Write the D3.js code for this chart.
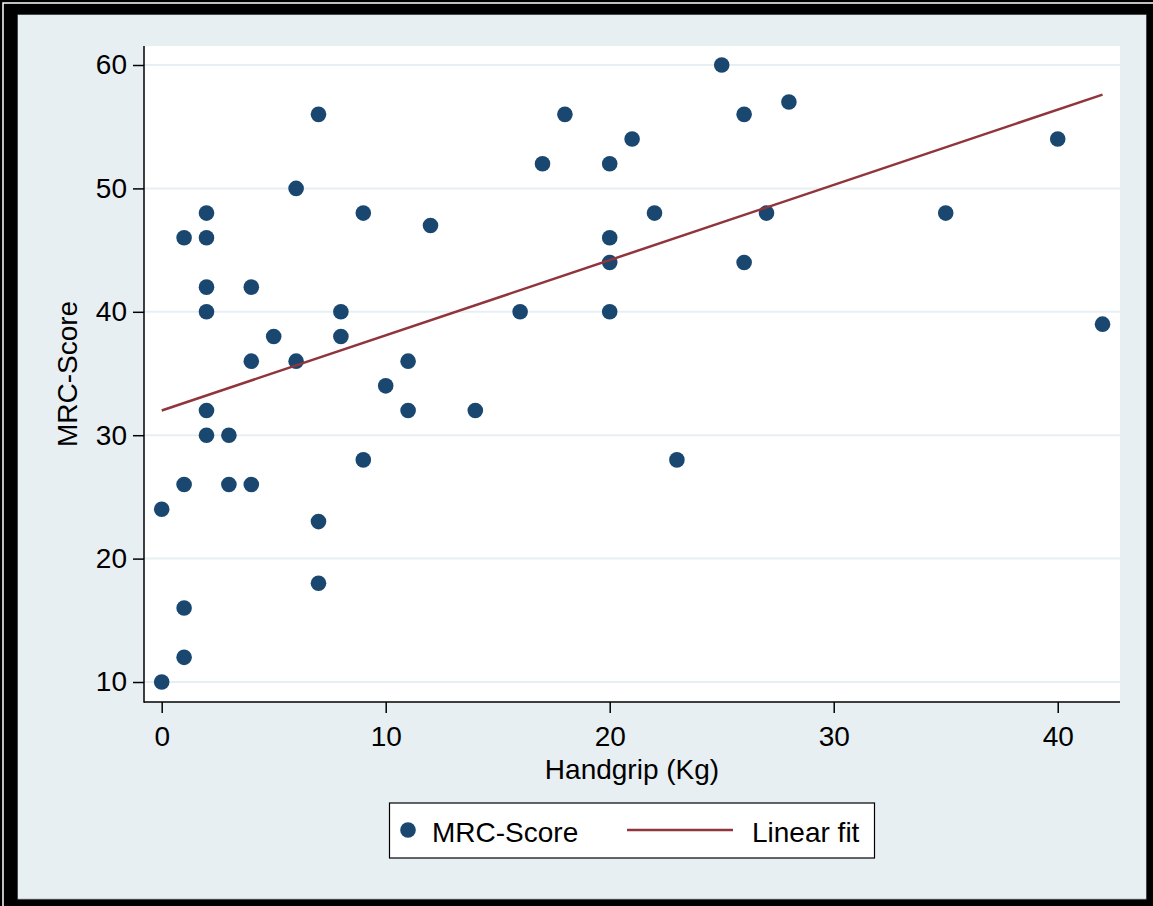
<!DOCTYPE html>
<html>
<head>
<meta charset="utf-8">
<script src="https://cdn.jsdelivr.net/npm/d3@7"></script>
<style>
  body { margin: 0; background: #000; }
  svg { display: block; font-family: "Liberation Sans", Arial, Helvetica, sans-serif; }
</style>
</head>
<body>
<div id="chart"></div>
<script>
var width = 1153,
    height = 906;

// handgrip (Kg) and MRC-Score
var handgrip = [0, 0, 1, 1, 1, 1, 2, 2, 2, 2, 2, 2, 3, 3, 4, 4, 4, 5, 6, 6,
                7, 7, 7, 8, 8, 9, 9, 10, 11, 11, 12, 14, 16, 17, 18, 20, 20, 20, 20, 21,
                22, 23, 25, 26, 26, 27, 28, 35, 40, 42];
var mrcScore = [10, 24, 12, 16, 26, 46, 30, 32, 40, 42, 46, 48, 26, 30, 26, 36, 42, 38, 36, 50,
                18, 23, 56, 38, 40, 28, 48, 34, 32, 36, 47, 32, 40, 52, 56, 40, 44, 46, 52, 54,
                48, 28, 60, 44, 56, 48, 57, 48, 54, 39];

// linear fit end points
var fitX = [0, 42];
var fitY = [32.0, 57.6];

var xTicks = [0, 10, 20, 30, 40];
var yTicks = [10, 20, 30, 40, 50, 60];

var bg = "#e8eff2",
    navy = "#1a476f",
    maroon = "#90353b";

var plot = {left: 144, right: 1120, top: 46, bottom: 702};

var svg = d3.select("#chart").append("svg")
    .attr("width", width)
    .attr("height", height);

// frame
svg.append("rect").attr("width", width).attr("height", height).attr("fill", "#000");
svg.append("path")
    .attr("d", "M3," + height + "V3H" + width)
    .attr("fill", "none")
    .attr("stroke", "#fff")
    .attr("stroke-width", 1.5);
svg.append("rect")
    .attr("x", 18).attr("y", 15)
    .attr("width", 1128).attr("height", 884)
    .attr("fill", bg)
    .attr("stroke", "#8a9296")
    .attr("stroke-width", 1);
svg.append("rect")
    .attr("x", 18).attr("y", 15)
    .attr("width", 1128).attr("height", 883.5)
    .attr("fill", bg);

// plot region
svg.append("rect")
    .attr("x", plot.left).attr("y", plot.top)
    .attr("width", plot.right - plot.left)
    .attr("height", plot.bottom - plot.top)
    .attr("fill", "#fff");

var x = d3.scaleLinear()
    .domain([-0.79, 42.78])
    .range([plot.left, plot.right]);

var y = d3.scaleLinear()
    .domain([8.38, 61.54])
    .range([plot.bottom, plot.top]);

// grid
svg.append("g")
  .selectAll("line")
  .data(yTicks)
  .enter().append("line")
    .attr("x1", plot.left).attr("x2", plot.right)
    .attr("y1", function(d) { return y(d); })
    .attr("y2", function(d) { return y(d); })
    .attr("stroke", bg)
    .attr("stroke-width", 2);

// axes
var xAxis = d3.axisBottom(x).tickValues(xTicks).tickSize(11).tickPadding(13).tickSizeOuter(0);
var yAxis = d3.axisLeft(y).tickValues(yTicks).tickSize(11).tickPadding(6).tickSizeOuter(0);

var gx = svg.append("g")
    .attr("transform", "translate(0," + plot.bottom + ")")
    .call(xAxis);
var gy = svg.append("g")
    .attr("transform", "translate(" + plot.left + ",0)")
    .call(yAxis);

[gx, gy].forEach(function(g) {
  g.select(".domain").remove();
  g.selectAll(".tick line").attr("stroke", "#000").attr("stroke-width", 1.5);
  g.selectAll(".tick text").attr("fill", "#000").style("font-size", "28px")
    .style("font-family", "'Liberation Sans', Arial, sans-serif");
});

svg.append("line")
    .attr("x1", plot.left).attr("x2", plot.left)
    .attr("y1", plot.top).attr("y2", plot.bottom + 0.75)
    .attr("stroke", "#000").attr("stroke-width", 1.5);
svg.append("line")
    .attr("x1", plot.left).attr("x2", plot.right)
    .attr("y1", plot.bottom).attr("y2", plot.bottom)
    .attr("stroke", "#000").attr("stroke-width", 1.5);

// axis titles
svg.append("text")
    .attr("x", (plot.left + plot.right) / 2)
    .attr("y", 779)
    .attr("text-anchor", "middle")
    .style("font-size", "28px")
    .text("Handgrip (Kg)");

svg.append("text")
    .attr("transform", "translate(77," + (plot.top + plot.bottom) / 2 + ") rotate(-90)")
    .attr("text-anchor", "middle")
    .style("font-size", "28px")
    .text("MRC-Score");

// points
var points = handgrip.map(function(h, i) { return {x: h, y: mrcScore[i]}; });

svg.append("g")
  .selectAll("circle")
  .data(points)
  .enter().append("circle")
    .attr("cx", function(d) { return x(d.x); })
    .attr("cy", function(d) { return y(d.y); })
    .attr("r", 7.8)
    .attr("fill", navy);

// fitted line
var line = d3.line()
    .x(function(d) { return x(d[0]); })
    .y(function(d) { return y(d[1]); });

svg.append("path")
    .datum(d3.zip(fitX, fitY))
    .attr("d", line)
    .attr("fill", "none")
    .attr("stroke", maroon)
    .attr("stroke-width", 2.5);

// legend
var legend = svg.append("g");
legend.append("rect")
    .attr("x", 389.5).attr("y", 803)
    .attr("width", 485).attr("height", 55)
    .attr("fill", "#fff")
    .attr("stroke", "#000")
    .attr("stroke-width", 1.2);
legend.append("circle")
    .attr("cx", 408).attr("cy", 830).attr("r", 7.8)
    .attr("fill", navy);
legend.append("text")
    .attr("x", 432).attr("y", 841.5)
    .style("font-size", "28px")
    .text("MRC-Score");
legend.append("line")
    .attr("x1", 627).attr("x2", 733)
    .attr("y1", 830).attr("y2", 830)
    .attr("stroke", maroon).attr("stroke-width", 2.5);
legend.append("text")
    .attr("x", 752).attr("y", 841.5)
    .style("font-size", "28px")
    .text("Linear fit");
</script>
</body>
</html>
